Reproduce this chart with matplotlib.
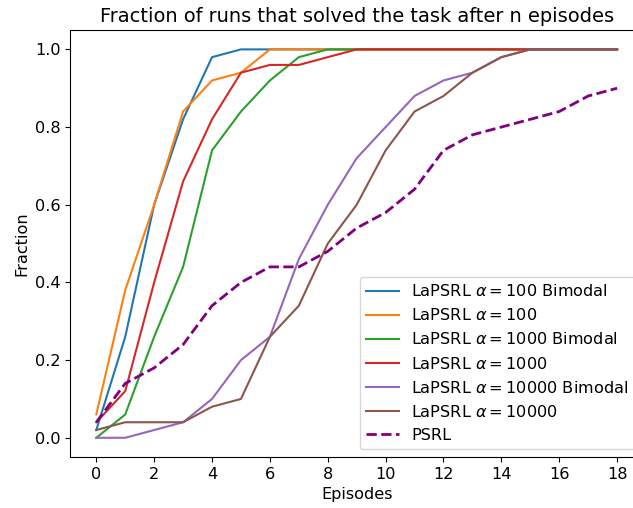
import numpy as np
import matplotlib
matplotlib.use("Agg")
import matplotlib.pyplot as plt

plt.rcParams['font.size'] = 11.6

episodes = np.arange(19)

a100_bimodal = [0.02, 0.26, 0.60, 0.82, 0.98, 1.0, 1.0, 1.0, 1.0, 1.0, 1.0, 1.0, 1.0, 1.0, 1.0, 1.0, 1.0, 1.0, 1.0]
a100 = [0.06, 0.38, 0.60, 0.84, 0.92, 0.94, 1.0, 1.0, 1.0, 1.0, 1.0, 1.0, 1.0, 1.0, 1.0, 1.0, 1.0, 1.0, 1.0]
a1000_bimodal = [0.0, 0.06, 0.26, 0.44, 0.74, 0.84, 0.92, 0.98, 1.0, 1.0, 1.0, 1.0, 1.0, 1.0, 1.0, 1.0, 1.0, 1.0, 1.0]
a1000 = [0.04, 0.12, 0.40, 0.66, 0.82, 0.94, 0.96, 0.96, 0.98, 1.0, 1.0, 1.0, 1.0, 1.0, 1.0, 1.0, 1.0, 1.0, 1.0]
a10000_bimodal = [0.0, 0.0, 0.02, 0.04, 0.10, 0.20, 0.26, 0.46, 0.60, 0.72, 0.80, 0.88, 0.92, 0.94, 0.98, 1.0, 1.0, 1.0, 1.0]
a10000 = [0.02, 0.04, 0.04, 0.04, 0.08, 0.10, 0.26, 0.34, 0.50, 0.60, 0.74, 0.84, 0.88, 0.94, 0.98, 1.0, 1.0, 1.0, 1.0]
psrl = [0.04, 0.14, 0.18, 0.24, 0.34, 0.40, 0.44, 0.44, 0.48, 0.54, 0.58, 0.64, 0.74, 0.78, 0.80, 0.82, 0.84, 0.88, 0.90]

series = [
    (a100_bimodal, r'LaPSRL $\alpha = 100$ Bimodal'),
    (a100, r'LaPSRL $\alpha = 100$'),
    (a1000_bimodal, r'LaPSRL $\alpha = 1000$ Bimodal'),
    (a1000, r'LaPSRL $\alpha = 1000$'),
    (a10000_bimodal, r'LaPSRL $\alpha = 10000$ Bimodal'),
    (a10000, r'LaPSRL $\alpha = 10000$'),
]

fig, ax = plt.subplots(figsize=(6.33, 5.08), dpi=100)
# the source image is cropped: right spine sits just past the figure edge
fig.subplots_adjust(left=0.111, right=1.016, top=0.941, bottom=0.1)

for vals, label in series:
    ax.plot(episodes, vals, label=label)
ax.plot(episodes, psrl, '--', color='purple', linewidth=2, label='PSRL')

ax.set_xticks(np.arange(0, 19, 2))
ax.set_xlabel('Episodes')
ax.set_ylabel('Fraction')
ax.set_title('Fraction of runs that solved the task after n episodes')
ax.legend(loc='lower right')

plt.savefig('out.png', dpi=100)
